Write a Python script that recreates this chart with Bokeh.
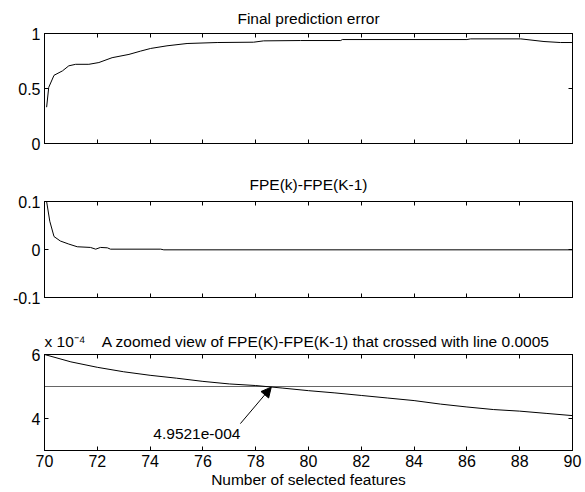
from bokeh.plotting import figure
from bokeh.layouts import column
from bokeh.models import (Range1d, LinearAxis, FixedTicker, Label, Arrow, NormalHead,
                          CustomJSTickFormatter)
from bokeh.embed import file_html
from bokeh.resources import INLINE

# ---------------- data ----------------
# Panel 1: final prediction error vs. number of selected features (x axis unlabeled)
fpe_x = [0.4, 0.8, 1.8, 3.4, 4.6, 5.9, 8.4, 10.3, 12.8, 16.0, 18.2, 20.1, 23.2, 27.0,
         32.7, 39.6, 41.5, 48.5, 56.1, 56.4, 80.0, 80.7, 90.2, 94.6, 97.7, 99.9]
fpe_y = [0.33, 0.51, 0.62, 0.66, 0.706, 0.72, 0.72, 0.736, 0.78, 0.81, 0.84, 0.864, 0.888, 0.909,
         0.918, 0.921, 0.933, 0.936, 0.936, 0.945, 0.945, 0.951, 0.951, 0.927, 0.918, 0.918]

# Panel 2: FPE(k)-FPE(k-1)
diff_x = [0.4, 1.0, 1.8, 3.0, 4.6, 6.2, 8.7, 9.7, 10.6, 11.9, 12.5, 22.0, 22.6, 100.0]
diff_y = [0.1, 0.059, 0.027, 0.0177, 0.0113, 0.0057, 0.0043, 0.0007, 0.0043, 0.0035,
          0.0007, 0.0007, -0.0007, -0.0007]

# Panel 3: zoomed view, values in units of 1e-4
zoom_x = [70, 71, 72, 73, 74, 75, 76, 77, 78, 79, 80, 81, 82, 83, 84, 85, 86, 87, 88, 89, 90]
zoom_y_e4 = [6.0, 5.77, 5.60, 5.46, 5.35, 5.26, 5.16, 5.08, 5.03, 4.9521, 4.87, 4.80, 4.72,
             4.64, 4.56, 4.45, 4.36, 4.28, 4.23, 4.16, 4.09]
threshold_e4 = 5.0
cross_label = "4.9521e-004"

top_xticks = [0, 10, 20, 30, 40, 50, 60, 70, 80, 90, 100]
p1_yticks = [0, 0.5, 1]
p2_yticks = [-0.1, 0, 0.1]
p3_xticks = [70, 72, 74, 76, 78, 80, 82, 84, 86, 88, 90]
p3_yticks = [4, 6]

FONT = "Liberation Sans"
FS = "15.5px"
TICK_FS = "16px"

num_fmt = CustomJSTickFormatter(code="return String(Math.round(tick*1e6)/1e6);")
empty_fmt = CustomJSTickFormatter(code="return '';")


def make_fig(h, top, bottom, xr, yr, title_text, title_align, title_standoff):
    p = figure(width=585, height=h, x_range=Range1d(*xr), y_range=Range1d(*yr),
               x_axis_type=None, y_axis_type=None, output_backend="svg",
               toolbar_location=None, min_border_left=44, min_border_right=13,
               min_border_top=top, min_border_bottom=bottom, title=title_text)
    p.outline_line_color = "black"
    p.outline_line_width = 1
    p.grid.visible = False
    p.background_fill_color = "white"
    p.border_fill_color = "white"
    p.title.align = title_align
    p.title.text_font = FONT
    p.title.text_font_size = FS
    p.title.text_font_style = "normal"
    p.title.text_color = "black"
    p.title.standoff = title_standoff
    return p


def add_axes(p, xticks, yticks, xlabels, xlabel=None):
    for loc, ticks, labels in (("below", xticks, xlabels), ("above", xticks, False),
                               ("left", yticks, True), ("right", yticks, False)):
        ax = LinearAxis(ticker=FixedTicker(ticks=ticks))
        ax.axis_line_color = "black"
        ax.major_tick_in = 4
        ax.major_tick_out = 0
        ax.major_tick_line_color = "black"
        ax.minor_tick_line_color = None
        ax.major_label_text_font = FONT
        ax.major_label_text_font_size = TICK_FS
        ax.major_label_text_color = "black"
        if labels:
            ax.formatter = num_fmt
            ax.major_label_standoff = 4
        else:
            ax.formatter = empty_fmt
            ax.major_label_standoff = 0
            ax.major_label_text_font_size = "0px"
        if loc == "below" and xlabel:
            ax.axis_label = xlabel
            ax.axis_label_text_font = FONT
            ax.axis_label_text_font_size = FS
            ax.axis_label_text_font_style = "normal"
            ax.axis_label_text_color = "black"
            ax.axis_label_standoff = 1
        p.add_layout(ax, loc)


# Panel 1
p1 = make_fig(163, 33, 20, (0, 100), (0, 1), "Final prediction error", "center", 13)
add_axes(p1, top_xticks, p1_yticks, False)
p1.line(fpe_x, fpe_y, line_color="black", line_width=1)

# Panel 2
p2 = make_fig(156, 38, 22, (0, 100), (-0.1, 0.1), "FPE(k)-FPE(K-1)", "center", 18)
add_axes(p2, top_xticks, p2_yticks, False)
p2.line(diff_x, diff_y, line_color="black", line_width=1)

# Panel 3
p3 = make_fig(173, 35, 42, (70, 90), (3, 6),
              "x 10\u207b\u2074\u00a0\u00a0\u00a0 A zoomed view of FPE(K)-FPE(K-1) that crossed with line 0.0005",
              "left", 10)
add_axes(p3, p3_xticks, p3_yticks, True, "Number of selected features")
p3.line([zoom_x[0], zoom_x[-1]], [threshold_e4, threshold_e4], line_color="#666666", line_width=1)
p3.line(zoom_x, zoom_y_e4, line_color="black", line_width=1)
p3.add_layout(Arrow(x_start=77.42, y_start=3.84, x_end=78.59, y_end=4.98,
                    line_color="black", line_width=1,
                    end=NormalHead(size=10, fill_color="black", line_color="black")))
p3.add_layout(Label(x=77.42, y=3.53, text=cross_label, text_align="right",
                    text_baseline="alphabetic", text_font=FONT, text_font_size=FS,
                    text_color="black"))

layout = column(p1, p2, p3, spacing=0)
open("out.html", "w").write(file_html(layout, INLINE))
